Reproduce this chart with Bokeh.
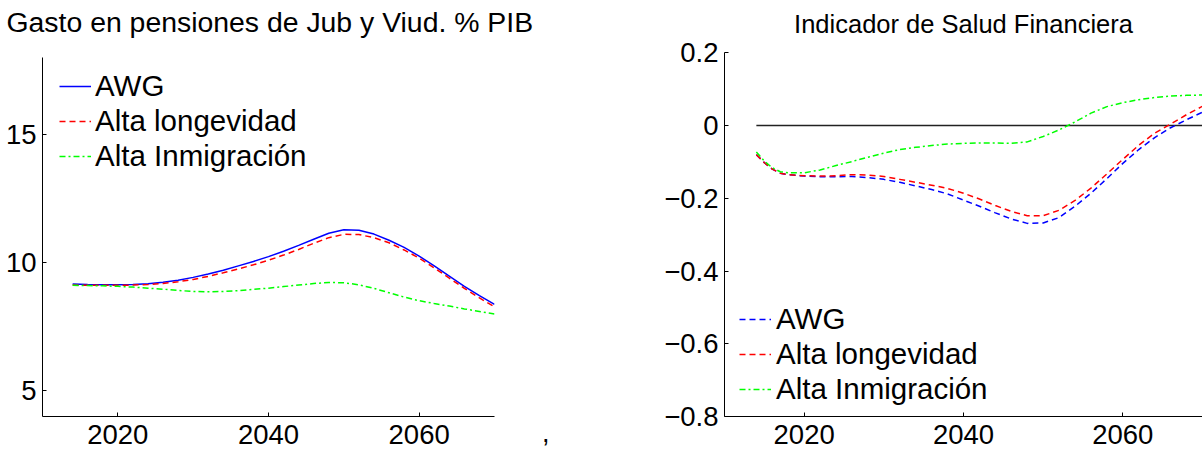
from bokeh.plotting import figure
from bokeh.layouts import row
from bokeh.models import FixedTicker, Range1d, Legend, LegendItem, Div
from bokeh.embed import file_html
from bokeh.resources import INLINE

# ---------------- data: left panel ----------------
left_title = "Gasto en pensiones de Jub y Viud. % PIB"
years_l = [2014, 2016, 2018, 2020, 2022, 2024, 2026, 2028, 2030, 2032, 2034, 2036, 2038, 2040,
           2042, 2044, 2046, 2048, 2050, 2052, 2054, 2056, 2058, 2060, 2062, 2064, 2066, 2068, 2070]
awg_l = [9.17, 9.15, 9.14, 9.14, 9.15, 9.18, 9.24, 9.32, 9.43, 9.56, 9.71, 9.88, 10.05, 10.24,
         10.45, 10.68, 10.92, 11.15, 11.29, 11.27, 11.12, 10.88, 10.60, 10.26, 9.88, 9.48, 9.08, 8.72, 8.38]
longev_l = [9.13, 9.12, 9.12, 9.12, 9.13, 9.15, 9.19, 9.26, 9.35, 9.47, 9.61, 9.76, 9.92, 10.10,
            10.30, 10.52, 10.76, 10.98, 11.11, 11.10, 10.98, 10.78, 10.50, 10.18, 9.80, 9.40, 9.00, 8.63, 8.28]
inmig_l = [9.12, 9.11, 9.10, 9.08, 9.05, 9.01, 8.97, 8.92, 8.88, 8.87, 8.88, 8.91, 8.96, 9.01,
           9.07, 9.13, 9.19, 9.23, 9.22, 9.14, 9.00, 8.83, 8.66, 8.52, 8.41, 8.31, 8.20, 8.10, 8.00]
xticks_l = [2020, 2040, 2060]
yticks_l = [5, 10, 15]
ybounds_l = (4, 18)
separator = ","

# ---------------- data: right panel ----------------
right_title = "Indicador de Salud Financiera"
years_r = [2014, 2015, 2016, 2017, 2018, 2020, 2022, 2024, 2026, 2028, 2030, 2032, 2034, 2036, 2038,
           2040, 2042, 2044, 2046, 2048, 2050, 2052, 2054, 2056, 2058, 2060, 2062, 2064, 2066, 2068, 2070]
awg_r = [-0.080, -0.102, -0.120, -0.131, -0.135, -0.139, -0.141, -0.141, -0.140, -0.143, -0.148,
         -0.156, -0.166, -0.176, -0.188, -0.205, -0.222, -0.240, -0.257, -0.269, -0.268, -0.253,
         -0.222, -0.186, -0.146, -0.104, -0.066, -0.033, -0.006, 0.016, 0.037]
longev_r = [-0.080, -0.102, -0.120, -0.131, -0.135, -0.138, -0.139, -0.138, -0.135, -0.136, -0.140,
            -0.148, -0.156, -0.164, -0.173, -0.186, -0.202, -0.220, -0.236, -0.248, -0.248, -0.233,
            -0.206, -0.172, -0.133, -0.093, -0.054, -0.021, 0.004, 0.030, 0.053]
inmig_r = [-0.073, -0.098, -0.116, -0.127, -0.130, -0.130, -0.122, -0.110, -0.099, -0.087, -0.076,
           -0.066, -0.060, -0.055, -0.051, -0.049, -0.048, -0.048, -0.049, -0.045, -0.030, -0.012,
           0.010, 0.034, 0.052, 0.063, 0.071, 0.077, 0.081, 0.083, 0.084]
xticks_r = [2020, 2040, 2060]
yticks_r = [-0.8, -0.6, -0.4, -0.2, 0, 0.2]
yticklabels_r = ["\u22120.8", "\u22120.6", "\u22120.4", "\u22120.2", "0", "0.2"]
ybounds_r = (-0.8, 0.2)

names = ["AWG", "Alta longevidad", "Alta Inmigraci\u00f3n"]

FONT = "Liberation Sans"
BLUE, RED, GREEN = "#0000ff", "#ff0000", "#00ff00"
DASH = "6 4"
DASHDOT = "6 3 2 3"

# layout (pixels)
H = 454
FRAME_TOP = 37          # common frame top (frames are aligned in the row)
FRAME_BOTTOM = 416
LEFT_AXIS_TOP = 57.3    # where y = 18 sits in the left panel
RIGHT_AXIS_TOP = 52.3   # where y = 0.2 sits in the right panel


def extended_top(lo, hi, axis_top_px):
    # upper range end so that `hi` lands at axis_top_px while the frame starts at FRAME_TOP
    ppu = (FRAME_BOTTOM - axis_top_px) / (hi - lo)
    return hi + (axis_top_px - FRAME_TOP) / ppu


def style_axes(p, xt, yt, ybounds):
    for ax in (p.xaxis[0], p.yaxis[0]):
        ax.axis_line_color = "black"
        ax.axis_line_width = 1
        ax.major_tick_in = 4
        ax.major_tick_out = 0
        ax.minor_tick_line_color = None
        ax.major_tick_line_color = "black"
        ax.major_label_text_font = FONT
        ax.major_label_text_font_size = "27.5px"
        ax.major_label_text_color = "black"
    p.xaxis[0].ticker = FixedTicker(ticks=xt)
    p.yaxis[0].ticker = FixedTicker(ticks=yt)
    p.yaxis[0].bounds = ybounds
    p.xaxis[0].major_label_standoff = 8
    p.yaxis[0].major_label_standoff = 6
    p.xgrid.visible = False
    p.ygrid.visible = False
    p.outline_line_color = None
    p.background_fill_color = "white"
    p.border_fill_color = "white"


def style_title(p, text, size, align, offset):
    p.title.text = text
    p.title.text_font = FONT
    p.title.text_font_size = size
    p.title.text_font_style = "normal"
    p.title.text_color = "black"
    p.title.align = align
    p.title.offset = offset
    p.title.standoff = 0


def make_legend(p, renderers, loc, standoff):
    leg = Legend(items=[LegendItem(label=n, renderers=[r]) for n, r in zip(names, renderers)],
                 location=loc)
    leg.label_text_font = FONT
    leg.label_text_font_size = "29.5px"
    leg.label_text_color = "black"
    leg.glyph_width = 32
    leg.label_standoff = standoff
    leg.spacing = 1
    leg.padding = 0
    leg.margin = 0
    leg.border_line_alpha = 0
    leg.background_fill_alpha = 0
    p.add_layout(leg)


# ---------------- left figure ----------------
p1 = figure(width=540, height=H, x_range=Range1d(2010, 2070),
            y_range=Range1d(ybounds_l[0], extended_top(ybounds_l[0], ybounds_l[1], LEFT_AXIS_TOP)),
            output_backend="svg", toolbar_location=None,
            min_border_left=42, min_border_right=46, min_border_top=FRAME_TOP,
            min_border_bottom=H - FRAME_BOTTOM)
style_axes(p1, xticks_l, yticks_l, ybounds_l)
style_title(p1, left_title, "28.4px", "left", -36)

r1 = p1.line(years_l, awg_l, line_color=BLUE, line_width=1.5)
r2 = p1.line(years_l, longev_l, line_color=RED, line_width=1.5, line_dash=DASH)
r3 = p1.line(years_l, inmig_l, line_color=GREEN, line_width=1.5, line_dash=DASHDOT)
make_legend(p1, [r1, r2, r3], (17, 243), 4)

# ---------------- separator ----------------
sep = Div(text=separator, width=60, height=H, margin=0,
          styles={"font-family": FONT, "font-size": "27px", "line-height": "27px",
                  "color": "black", "padding-top": "420px", "padding-left": "2px",
                  "box-sizing": "border-box"})

# ---------------- right figure ----------------
p2 = figure(width=602, height=H, x_range=Range1d(2010, 2070),
            y_range=Range1d(ybounds_r[0], extended_top(ybounds_r[0], ybounds_r[1], RIGHT_AXIS_TOP)),
            output_backend="svg", toolbar_location=None,
            min_border_left=124, min_border_right=0, min_border_top=FRAME_TOP,
            min_border_bottom=H - FRAME_BOTTOM)
style_axes(p2, xticks_r, yticks_r, ybounds_r)
p2.yaxis[0].major_label_overrides = {t: s for t, s in zip(yticks_r, yticklabels_r)}
style_title(p2, right_title, "25.5px", "center", 0)

p2.line([years_r[0], years_r[-1]], [0, 0], line_color="#222222", line_width=1.5)
q1 = p2.line(years_r, awg_r, line_color=BLUE, line_width=1.5, line_dash=DASH)
q2 = p2.line(years_r, longev_r, line_color=RED, line_width=1.5, line_dash=DASH)
q3 = p2.line(years_r, inmig_r, line_color=GREEN, line_width=1.5, line_dash=DASHDOT)
make_legend(p2, [q1, q2, q3], (15, 10), 5)

layout = row(p1, sep, p2, spacing=0)
open("out.html", "w").write(file_html(layout, INLINE))
